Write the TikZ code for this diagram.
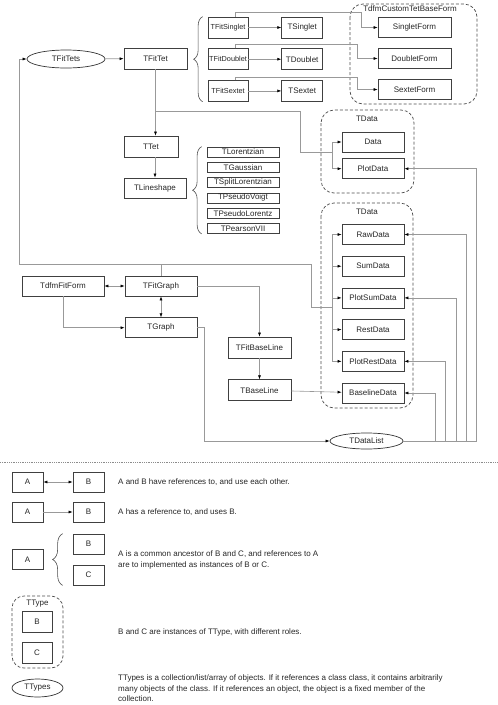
\documentclass[tikz,border=0pt]{standalone}
\usepackage{fontspec}
\setmainfont{Liberation Sans}
\usepackage{tikz}
\usetikzlibrary{arrows.meta, positioning, shapes.geometric, decorations.pathreplacing}

\begin{document}
\begin{tikzpicture}[
        x=1pt, y=-1pt,
        font=\fontsize{8}{10.5}\selectfont,
        every node/.style={text=black!85},
        cls/.style={rectangle, draw=black!75, line width=0.7pt, fill=white, inner sep=0.5pt, minimum height=21pt},
        fitcls/.style={cls, minimum width=40pt, inner sep=0pt, font=\fontsize{7.3}{9}\selectfont},
        sub/.style={rectangle, draw=black!75, line width=0.7pt, fill=white, inner sep=0pt, minimum width=72pt, minimum height=10pt},
        coll/.style={ellipse, draw=black!80, line width=0.7pt, fill=white, inner sep=0pt},
        grp/.style={draw=black!70, line width=0.7pt, dash pattern=on 3pt off 2pt, rounded corners=13pt},
        brc/.style={draw=black!70, line width=0.6pt, decorate, decoration={brace, amplitude=9pt}},
        note/.style={anchor=west, align=left, inner sep=0pt},
        line/.style={-{Latex[length=4pt, width=3pt, color=black]}, draw=black!40, line width=0.6pt},
        biline/.style={{Latex[length=4pt, width=3pt, color=black]}-{Latex[length=4pt, width=3pt, color=black]}, draw=black!40, line width=0.6pt},
        plain/.style={draw=black!40, line width=0.6pt}
    ]
    \useasboundingbox (0,0) rectangle (498,705);

    % groups
    \draw[grp] (350,4) rectangle (477,104);
    \node[fill=white, inner sep=1pt] (cform) at (410,9) {TdfmCustomTetBaseForm};
    \draw[grp] (321,110) rectangle (414,193);
    \node (tdata1) at (367,119) {TData};
    \draw[grp] (321,203) rectangle (413,408);
    \node (tdata2) at (367,212) {TData};

    % tets
    \node[coll, minimum width=78pt, minimum height=18pt] (tets) at (66,59) {TFitTets};
    \node[cls, minimum width=63pt] (fittet) at (155.5,58.5) {TFitTet};
    \node[fitcls] (fsing) at (228,27.5) {TFitSinglet};
    \node[fitcls, below=10pt of fsing] (fdoub) {TFitDoublet};
    \node[fitcls, below=10pt of fdoub] (fsext) {TFitSextet};
    \node[cls, minimum width=41pt, right=33pt of fsing] (tsing) {TSinglet};
    \node[cls, minimum width=41pt, right=33pt of fdoub] (tdoub) {TDoublet};
    \node[cls, minimum width=41pt, right=33pt of fsext] (tsext) {TSextet};
    \node[cls, minimum width=73pt, minimum height=20pt] (sform) at (414.5,27.5) {SingletForm};
    \node[cls, minimum width=73pt, minimum height=20pt] (dform) at (414.5,58.5) {DoubletForm};
    \node[cls, minimum width=73pt, minimum height=20pt] (xform) at (414.5,89.5) {SextetForm};

    % lineshapes
    \node[cls, minimum width=54pt] (ttet) at (151,146.5) {TTet};
    \node[cls, minimum width=62pt, minimum height=20pt] (lshape) at (155,188) {TLineshape};
    \node[sub] (lor) at (243,152) {TLorentzian};
    \node[sub, below=4.6pt of lor] (gau) {TGaussian};
    \node[sub, below=4.6pt of gau] (slor) {TSplitLorentzian};
    \node[sub, below=4.6pt of slor] (pvoi) {TPseudoVoigt};
    \node[sub, below=4.6pt of pvoi] (plor) {TPseudoLorentz};
    \node[sub, below=4.6pt of plor] (pvii) {TPearsonVII};

    % data
    \node[cls, minimum width=62pt, minimum height=20pt] (data) at (373,142) {Data};
    \node[cls, minimum width=62pt, minimum height=20pt, below=6pt of data] (plotdata) {PlotData};
    \node[cls, minimum width=62pt, minimum height=20pt] (raw) at (373,234.5) {RawData};
    \node[cls, minimum width=62pt, minimum height=20pt, below=11pt of raw] (sum) {SumData};
    \node[cls, minimum width=62pt, minimum height=20pt, below=11pt of sum] (psum) {PlotSumData};
    \node[cls, minimum width=62pt, minimum height=20pt, below=11pt of psum] (rest) {RestData};
    \node[cls, minimum width=62pt, minimum height=20pt, below=11pt of rest] (prest) {PlotRestData};
    \node[cls, minimum width=62pt, minimum height=20pt, below=11pt of prest] (basedata) {BaselineData};

    % graph
    \node[cls, minimum width=82pt, minimum height=20pt] (fitform) at (63,286) {TdfmFitForm};
    \node[cls, minimum width=72pt, minimum height=20pt] (fitgraph) at (161,286) {TFitGraph};
    \node[cls, minimum width=72pt, minimum height=20pt, below=21pt of fitgraph] (tgraph) {TGraph};
    \node[cls, minimum width=63pt] (fitbase) at (259.5,347.5) {TFitBaseLine};
    \node[cls, minimum width=63pt, below=21pt of fitbase] (tbase) {TBaseLine};
    \node[coll, minimum width=73pt, minimum height=16pt] (datalist) at (366.5,441) {TDataList};

    % connectors
    \draw[line] (tets) -- (fittet);
    \draw[line] (fsing) -- (tsing);
    \draw[line] (fdoub) -- (tdoub);
    \draw[line] (fsext) -- (tsext);
    \draw[line] ([xshift=7pt]fsing.north) -- ++(0,-4) -| ([xshift=-16pt]sform.west) -- (sform);
    \draw[line] ([xshift=7pt]fdoub.north) -- ++(0,-4) -| ([xshift=-20pt]dform.west) -- (dform);
    \draw[line] ([xshift=7pt]fsext.north) -- ++(0,-3) -| ([xshift=-20pt]xform.west) -- (xform);
    \draw[brc] ([xshift=-5pt]fsext.south west) -- ([xshift=-5pt]fsing.north west);
    \draw[brc] ([xshift=-5pt]pvii.south west) -- ([xshift=-5pt]lor.north west);
    \draw[line] (fittet.south) -- (fittet.south |- ttet.north);
    \draw[line] (lshape.north |- ttet.south) -- (lshape.north);
    \coordinate (dbus1) at (332,152);
    \draw[plain] (fittet.south) ++(0,41.5) -| ([xshift=-32pt]dbus1) -- (dbus1);
    \draw[line] (dbus1) |- (data);
    \draw[line] (dbus1) |- (plotdata);

    \draw[biline] (fitform) -- (fitgraph);
    \draw[biline] (fitgraph) -- (tgraph);
    \draw[line] (fitform) |- (tgraph);
    \draw[line] (fitgraph.north) -- ++(0,-11) -| ([xshift=-7pt]tets.west) -- (tets);
    \coordinate (dbus2) at (332,307);
    \draw[plain] (fitgraph.north) ++(0,-11) -| ([xshift=-21pt]dbus2) -- (dbus2);
    \draw[line] (dbus2) |- (raw);
    \draw[line] (dbus2) |- (sum);
    \draw[line] (dbus2) |- (psum);
    \draw[line] (dbus2) |- (rest);
    \draw[line] (dbus2) |- (prest);
    \draw[line] (fitgraph) -| (fitbase);
    \draw[line] (fitbase) -- (tbase);
    \draw[line] (tbase) -- (basedata);
    \draw[line] (tgraph.east) -- ++(7,0) |- (datalist);
    \draw[line] (datalist) -| ([xshift=31pt]basedata.east) -- (basedata);
    \draw[line] (datalist) -| ([xshift=41pt]prest.east) -- (prest);
    \draw[line] (datalist) -| ([xshift=52pt]psum.east) -- (psum);
    \draw[line] (datalist) -| ([xshift=62pt]raw.east) -- (raw);
    \draw[line] (datalist) -| ([xshift=72pt]plotdata.east) -- (plotdata);

    % legend
    \draw[black!45, line width=0.8pt, densely dotted] (0,462) -- (498,462);
    \node[cls, minimum width=31pt, minimum height=20pt] (la1) at (27.5,482) {A};
    \node[cls, minimum width=31pt, minimum height=20pt] (lb1) at (88.5,482) {B};
    \node[cls, minimum width=31pt, minimum height=20pt] (la2) at (27.5,512) {A};
    \node[cls, minimum width=31pt, minimum height=20pt] (lb2) at (88.5,512) {B};
    \node[cls, minimum width=31pt, minimum height=20pt] (la3) at (27.5,559.5) {A};
    \node[cls, minimum width=31pt, minimum height=20pt] (lb3) at (88.5,544) {B};
    \node[cls, minimum width=31pt, minimum height=20pt] (lc3) at (88.5,575) {C};
    \draw[grp, rounded corners=12pt] (12,596) rectangle (63,668);
    \node (ttype) at (37.5,604) {TType};
    \node[cls, minimum width=30pt] (lb4) at (37,621.5) {B};
    \node[cls, minimum width=30pt] (lc4) at (37,652.5) {C};
    \node[coll, minimum width=51pt, minimum height=18pt] (ttypes) at (37.5,688) {TTypes};
    \draw[biline] (la1) -- (lb1);
    \draw[line] (la2) -- (lb2);
    \draw[brc, decoration={brace, amplitude=10pt}] ([xshift=-10pt]lc3.south west) -- ([xshift=-10pt]lb3.north west);

    \node[note] (txt1) at (118,482) {A and B have references to, and use each other.};
    \node[note] (txt2) at (118,512) {A has a reference to, and uses B.};
    \node[note, font=\fontsize{8}{11.7}\selectfont] (txt3) at (118,560) {A is a common ancestor of B and C, and references to A\\are to implemented as instances of B or C.};
    \node[note] (txt4) at (118,632) {B and C are instances of TType, with different roles.};
    \node[note] (txt5) at (118,688.5) {TTypes is a collection/list/array of objects. If it references a class class, it contains arbitrarily\\many objects of the class. If it references an object, the object is a fixed member of the\\collection.};
\end{tikzpicture}
\end{document}
